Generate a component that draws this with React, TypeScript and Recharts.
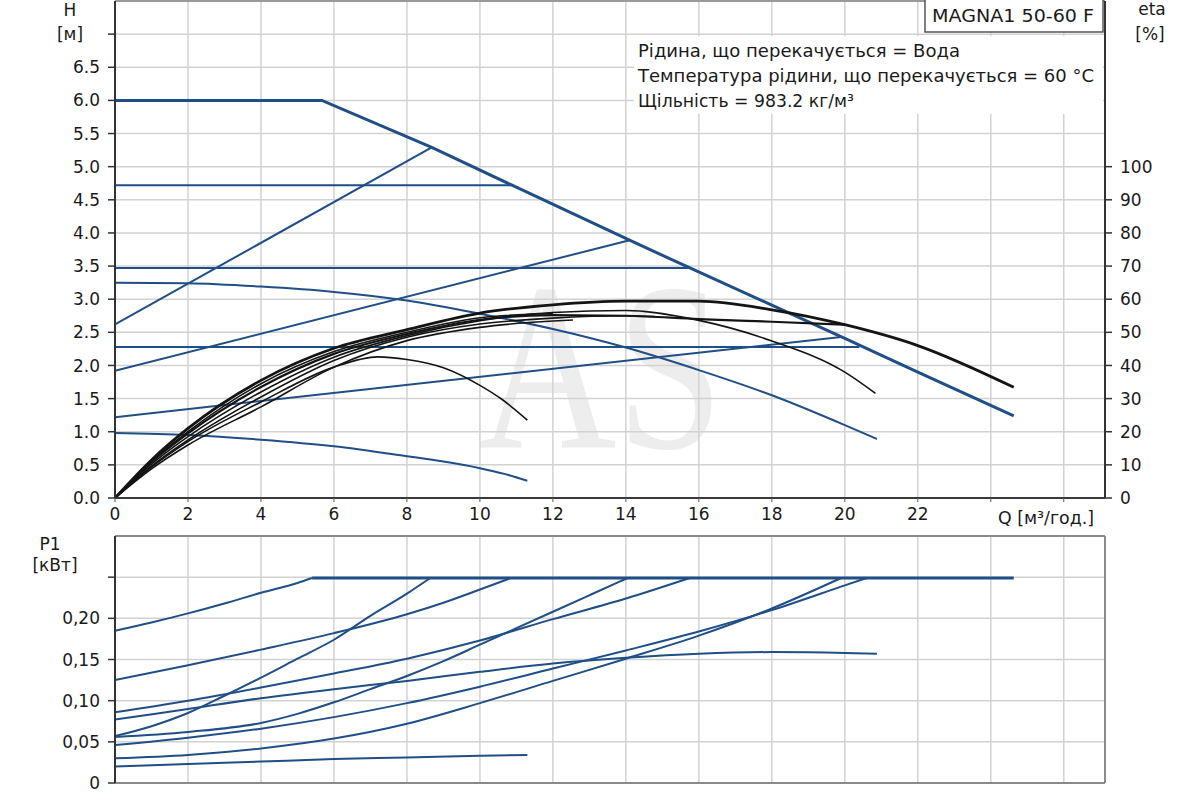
import React from 'react';
import { LineChart, Line, XAxis, YAxis, CartesianGrid, ReferenceLine } from 'recharts';

type Pt = [number, number];

// ---------- axes ----------
const qTicks = [0, 2, 4, 6, 8, 10, 12, 14, 16, 18, 20, 22, 24, 26];
const hTicks = [0, 0.5, 1, 1.5, 2, 2.5, 3, 3.5, 4, 4.5, 5, 5.5, 6, 6.5, 7];
const etaTicks = [0, 10, 20, 30, 40, 50, 60, 70, 80, 90, 100];
const pTicks = [0, 0.05, 0.1, 0.15, 0.2, 0.25];

// ---------- head curves H [m] ----------
const hMax: Pt[] = [[0, 6.0], [5.67, 6.0], [8.68, 5.29], [10.88, 4.72], [14.1, 3.89], [15.8, 3.46], [18, 2.91], [20, 2.41], [22, 1.9], [24.63, 1.24]];
const hCp472: Pt[] = [[0, 4.72], [10.88, 4.72]];
const hCp347: Pt[] = [[0, 3.47], [15.8, 3.47]];
const hCp228: Pt[] = [[0, 2.28], [20.4, 2.28]];
const hPp262: Pt[] = [[0, 2.62], [8.68, 5.29]];
const hPp192: Pt[] = [[0, 1.92], [14.1, 3.89]];
const hPp122: Pt[] = [[0, 1.22], [19.9, 2.43]];
const hCc325: Pt[] = [[0, 3.25], [2, 3.24], [4, 3.19], [6, 3.11], [8, 2.98], [10, 2.78], [12, 2.55], [14, 2.27], [16, 1.93], [18, 1.55], [20, 1.1], [20.88, 0.89]];
const hCc098: Pt[] = [[0, 0.98], [2, 0.95], [4, 0.88], [6, 0.78], [8, 0.63], [9, 0.55], [10, 0.45], [10.7, 0.36], [11.3, 0.26]];

// ---------- efficiency curves eta [%] ----------
const eta1: Pt[] = [[0, 0], [1, 11.5], [2, 21], [4, 35.5], [6, 45.2], [8, 50.8], [10, 55.8], [12, 58.3], [14, 59.4], [16, 59.4], [18, 56.8], [20, 52.3], [22, 46], [24.63, 33.4]];
const eta2: Pt[] = [[0, 0], [1, 10.8], [2, 19.5], [4, 33.5], [6, 43.5], [8, 49.5], [10, 53.8], [12, 55.2], [14, 55], [16, 54], [18, 53.2], [20, 52.3]];
const eta3: Pt[] = [[0, 0], [1, 10.2], [2, 18.5], [4, 32], [6, 42.5], [8, 49], [10, 53.5], [12, 56], [14, 56.6], [16, 53.6], [18, 47.4], [20, 38], [20.84, 31.6]];
const eta4: Pt[] = [[0, 0], [1, 9.6], [2, 17.5], [4, 30.5], [6, 41.5], [8, 48.5], [10, 52.5], [12, 54.3], [14, 55], [14.8, 54.8]];
const eta5: Pt[] = [[0, 0], [1, 8.8], [2, 16], [4, 27.5], [6, 39.5], [8, 47.5], [10, 51.5], [12, 53.4], [12.55, 53.7]];
const eta6: Pt[] = [[0, 0], [1, 11], [2, 20], [4, 34.5], [6, 44.2], [8, 50], [10, 54.4], [12, 55.7]];
const eta7: Pt[] = [[0, 0], [1, 9.3], [2, 17], [4, 29], [6, 39.5], [7.2, 42.6], [8, 41.8], [9, 39.3], [10, 34], [10.6, 29.8], [11.3, 23.5]];

// ---------- power curves P1 [kW] ----------
const pMax: Pt[] = [[5.4, 0.249], [24.63, 0.249]];
const pCp60: Pt[] = [[0, 0.185], [1, 0.195], [2, 0.206], [3, 0.218], [4, 0.231], [5, 0.243], [5.4, 0.249]];
const pPp262: Pt[] = [[0, 0.057], [1, 0.069], [2, 0.085], [3, 0.106], [4, 0.128], [5, 0.151], [6, 0.174], [7, 0.203], [8, 0.23], [8.64, 0.249]];
const pCp472: Pt[] = [[0, 0.125], [2, 0.143], [4, 0.162], [6, 0.182], [8, 0.205], [9, 0.219], [10, 0.235], [10.85, 0.249]];
const pCp347: Pt[] = [[0, 0.086], [2, 0.1], [4, 0.116], [6, 0.133], [8, 0.151], [10, 0.173], [12, 0.199], [14, 0.224], [15.75, 0.249]];
const pPp192: Pt[] = [[0, 0.056], [2, 0.062], [4, 0.073], [5, 0.084], [6, 0.098], [7, 0.114], [8, 0.13], [9, 0.148], [10, 0.168], [11, 0.188], [12, 0.208], [13, 0.228], [14.05, 0.249]];
const pCc325: Pt[] = [[0, 0.077], [2, 0.09], [4, 0.103], [6, 0.114], [8, 0.124], [10, 0.135], [12, 0.145], [14, 0.152], [16, 0.157], [18, 0.159], [20, 0.158], [20.88, 0.157]];
const pCp228: Pt[] = [[0, 0.046], [2, 0.055], [4, 0.066], [6, 0.08], [8, 0.097], [10, 0.117], [12, 0.139], [14, 0.161], [16, 0.184], [18, 0.21], [20, 0.24], [20.6, 0.249]];
const pPp122: Pt[] = [[0, 0.03], [2, 0.034], [4, 0.042], [6, 0.054], [8, 0.072], [10, 0.097], [12, 0.124], [14, 0.151], [16, 0.179], [18, 0.212], [19.9, 0.249]];
const pCc098: Pt[] = [[0, 0.02], [2, 0.023], [4, 0.026], [6, 0.029], [8, 0.031], [10, 0.033], [11.3, 0.034]];

// ---------- text ----------
const infoLines = ['Рідина, що перекачується = Вода', 'Температура рідини, що перекачується = 60 °C', 'Щільність = 983.2 кг/м³'];
const infoWidths = [322, 456, 216];
const modelName = 'MAGNA1 50-60 F';
const watermark = 'AS';

const BLUE = '#1f4f86';
const BLACK = '#141414';
const FONT = 'DejaVu Sans';
const TXT = '#1a1a1a';

type S = { key: string; pts: Pt[]; color: string; w: number; curve: 'linear' | 'monotone'; axis: string };

const headSeries: S[] = [
  { key: 'hCp472', pts: hCp472, color: BLUE, w: 2, curve: 'linear', axis: 'h' },
  { key: 'hCp347', pts: hCp347, color: BLUE, w: 2, curve: 'linear', axis: 'h' },
  { key: 'hCp228', pts: hCp228, color: BLUE, w: 2, curve: 'linear', axis: 'h' },
  { key: 'hPp262', pts: hPp262, color: BLUE, w: 2, curve: 'linear', axis: 'h' },
  { key: 'hPp192', pts: hPp192, color: BLUE, w: 2, curve: 'linear', axis: 'h' },
  { key: 'hPp122', pts: hPp122, color: BLUE, w: 2, curve: 'linear', axis: 'h' },
  { key: 'hCc325', pts: hCc325, color: BLUE, w: 2, curve: 'monotone', axis: 'h' },
  { key: 'hCc098', pts: hCc098, color: BLUE, w: 2, curve: 'monotone', axis: 'h' },
  { key: 'hMax', pts: hMax, color: BLUE, w: 3, curve: 'linear', axis: 'h' },
  { key: 'eta7', pts: eta7, color: BLACK, w: 1.6, curve: 'monotone', axis: 'eta' },
  { key: 'eta5', pts: eta5, color: BLACK, w: 1.6, curve: 'monotone', axis: 'eta' },
  { key: 'eta4', pts: eta4, color: BLACK, w: 1.6, curve: 'monotone', axis: 'eta' },
  { key: 'eta3', pts: eta3, color: BLACK, w: 1.6, curve: 'monotone', axis: 'eta' },
  { key: 'eta6', pts: eta6, color: BLACK, w: 1.6, curve: 'monotone', axis: 'eta' },
  { key: 'eta2', pts: eta2, color: BLACK, w: 2.2, curve: 'monotone', axis: 'eta' },
  { key: 'eta1', pts: eta1, color: BLACK, w: 2.8, curve: 'monotone', axis: 'eta' },
];

const powerSeries: S[] = [
  { key: 'pCp60', pts: pCp60, color: BLUE, w: 2, curve: 'monotone', axis: 'p' },
  { key: 'pPp262', pts: pPp262, color: BLUE, w: 2, curve: 'monotone', axis: 'p' },
  { key: 'pCp472', pts: pCp472, color: BLUE, w: 2, curve: 'monotone', axis: 'p' },
  { key: 'pCp347', pts: pCp347, color: BLUE, w: 2, curve: 'monotone', axis: 'p' },
  { key: 'pPp192', pts: pPp192, color: BLUE, w: 2, curve: 'monotone', axis: 'p' },
  { key: 'pCc325', pts: pCc325, color: BLUE, w: 2, curve: 'monotone', axis: 'p' },
  { key: 'pCp228', pts: pCp228, color: BLUE, w: 2, curve: 'monotone', axis: 'p' },
  { key: 'pPp122', pts: pPp122, color: BLUE, w: 2, curve: 'monotone', axis: 'p' },
  { key: 'pCc098', pts: pCc098, color: BLUE, w: 2, curve: 'monotone', axis: 'p' },
  { key: 'pMax', pts: pMax, color: BLUE, w: 3, curve: 'linear', axis: 'p' },
];

const toData = (pts: Pt[]) => pts.map(([q, v]) => ({ q, v }));

const tickStyle = { fontSize: 17, fill: TXT, fontFamily: FONT };
const Q_MAX = 27.13;

const fmtQ = (v: number) => (v >= 24 ? '' : String(v));
const fmtH = (v: number) => (v >= 7 ? '' : v.toFixed(1));
const fmtP = (v: number) => (v === 0 ? '0' : v > 0.24 ? '' : v.toFixed(2).replace('.', ','));

const renderLines = (series: S[]) =>
  series.map((s) => (
    <Line
      key={s.key}
      data={toData(s.pts)}
      dataKey="v"
      yAxisId={s.axis}
      type={s.curve}
      stroke={s.color}
      strokeWidth={s.w}
      dot={false}
      activeDot={false}
      legendType="none"
      isAnimationActive={false}
    />
  ));

export default function App() {
  return (
    <div style={{ position: 'absolute', left: 0, top: 0, width: 1200, height: 800, background: '#fff', overflow: 'hidden' }}>
      <svg width={1200} height={800} style={{ position: 'absolute', left: 0, top: 0 }}>
        <text x={478} y={448} fontFamily="Liberation Serif" fontSize={240} fill="#ededed" textLength={245} lengthAdjust="spacingAndGlyphs">
          {watermark}
        </text>
      </svg>

      <div style={{ position: 'absolute', left: 0, top: 0 }}>
        <LineChart width={1200} height={530} margin={{ top: 1, right: 0, bottom: 0, left: 0 }}>
          <CartesianGrid yAxisId="h" stroke="#d2d2d2" strokeWidth={1.5} />
          <XAxis
            type="number"
            dataKey="q"
            domain={[0, Q_MAX]}
            ticks={qTicks}
            interval={0}
            allowDataOverflow
            height={32}
            tickFormatter={fmtQ}
            tickSize={4}
            tickMargin={6}
            axisLine={{ stroke: '#3a3a3a', strokeWidth: 2 }}
            tickLine={{ stroke: '#555' }}
            tick={tickStyle}
          />
          <YAxis
            yAxisId="h"
            type="number"
            domain={[0, 7.5]}
            ticks={hTicks}
            interval={0}
            allowDataOverflow
            width={115}
            tickFormatter={fmtH}
            tickSize={7}
            tickMargin={8}
            axisLine={{ stroke: '#333', strokeWidth: 2 }}
            tickLine={{ stroke: '#333', strokeWidth: 1.5 }}
            tick={tickStyle}
          />
          <YAxis
            yAxisId="eta"
            orientation="right"
            type="number"
            domain={[0, 150]}
            ticks={etaTicks}
            interval={0}
            allowDataOverflow
            width={95}
            tickSize={7}
            tickMargin={8}
            axisLine={{ stroke: '#333', strokeWidth: 2 }}
            tickLine={{ stroke: '#333', strokeWidth: 1.5 }}
            tick={tickStyle}
          />
          <ReferenceLine yAxisId="h" y={7.5} stroke="#999" strokeWidth={2} />
          {renderLines(headSeries)}
        </LineChart>
      </div>

      <div style={{ position: 'absolute', left: 0, top: 530 }}>
        <LineChart width={1200} height={270} margin={{ top: 6, right: 0, bottom: 0, left: 0 }}>
          <CartesianGrid yAxisId="p" stroke="#d2d2d2" strokeWidth={1.5} />
          <XAxis
            type="number"
            dataKey="q"
            domain={[0, Q_MAX]}
            ticks={qTicks}
            interval={0}
            allowDataOverflow
            height={17}
            tickFormatter={() => ''}
            tickLine={false}
            axisLine={{ stroke: '#8a8a8a', strokeWidth: 2 }}
          />
          <YAxis
            yAxisId="p"
            type="number"
            domain={[0, 0.3]}
            ticks={pTicks}
            interval={0}
            allowDataOverflow
            width={115}
            tickFormatter={fmtP}
            tickSize={7}
            tickMargin={8}
            axisLine={{ stroke: '#333', strokeWidth: 2 }}
            tickLine={{ stroke: '#333', strokeWidth: 1.5 }}
            tick={tickStyle}
          />
          <YAxis
            yAxisId="r"
            orientation="right"
            type="number"
            domain={[0, 1]}
            width={95}
            tick={false}
            tickLine={false}
            axisLine={{ stroke: '#8a8a8a', strokeWidth: 2 }}
          />
          <ReferenceLine yAxisId="p" y={0.3} stroke="#8a8a8a" strokeWidth={2} />
          {renderLines(powerSeries)}
        </LineChart>
      </div>

      <svg width={1200} height={800} style={{ position: 'absolute', left: 0, top: 0, pointerEvents: 'none' }}>
        <g fontFamily={FONT} fontSize={17} fill={TXT}>
          <text x={70} y={16} textAnchor="middle">H</text>
          <text x={70} y={40} textAnchor="middle">[м]</text>
          <text x={1152} y={15} textAnchor="middle">eta</text>
          <text x={1150} y={40} textAnchor="middle">[%]</text>
          <rect x={925} y={-2} width={178} height={34} fill="#fff" stroke="#555" strokeWidth={1.5} />
          <text x={932} y={22} textLength={162} lengthAdjust="spacingAndGlyphs">{modelName}</text>
          <rect x={634} y={36} width={469} height={78} fill="#fff" />
          {infoLines.map((t, i) => (
            <text key={t} x={638} y={57 + i * 25} textLength={infoWidths[i]} lengthAdjust="spacingAndGlyphs">{t}</text>
          ))}
          <text x={998} y={524} textLength={96} lengthAdjust="spacingAndGlyphs">Q [м³/год.]</text>
          <text x={50} y={550} textAnchor="middle">P1</text>
          <text x={55} y={571} textAnchor="middle">[кВт]</text>
        </g>
      </svg>
    </div>
  );
}
